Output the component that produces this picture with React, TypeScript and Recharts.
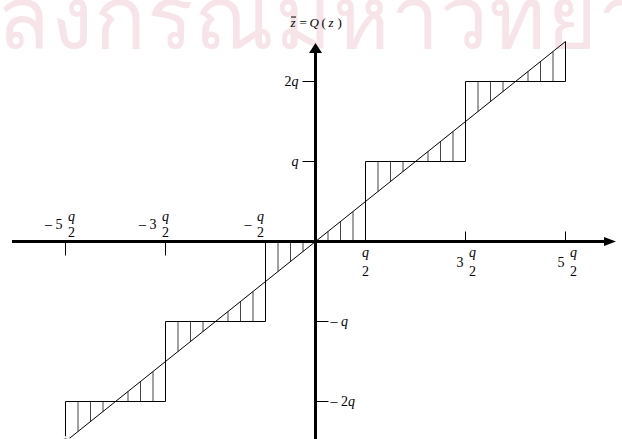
import { ComposedChart, Line, XAxis, YAxis, ReferenceLine, ReferenceDot } from "recharts";

const W = 622;
const H = 439;

// staircase of the uniform quantizer, z and Q(z) in units of q
const stairZ = [-2.5, -2.5, -1.5, -1.5, -0.5, -0.5, 0.5, 0.5, 1.5, 1.5, 2.5, 2.5];
const stairQ = [-2.5, -2, -2, -1, -1, 0, 0, 1, 1, 2, 2, 2.5];

// identity line z̄ = z
const diagZ = [-2.5, 2.5];

// hatching between the staircase and the identity line
const hatchZ = [
  -2.375, -2.25, -2.125, -1.875, -1.75, -1.625,
  -1.375, -1.25, -1.125, -0.875, -0.75, -0.625,
  -0.375, -0.25, -0.125, 0.125, 0.25, 0.375,
  0.625, 0.75, 0.875, 1.125, 1.25, 1.375,
  1.625, 1.75, 1.875, 2.125, 2.25, 2.375,
];
const hatchLevel = [
  -2, -2, -2, -2, -2, -2,
  -1, -1, -1, -1, -1, -1,
  0, 0, 0, 0, 0, 0,
  1, 1, 1, 1, 1, 1,
  2, 2, 2, 2, 2, 2,
];

const xTicks = [-2.5, -1.5, -0.5, 0.5, 1.5, 2.5];
const xTickCoef = ["– 5", "– 3", "–", "", "3", "5"];
const yTicks = [2, 1, -1, -2];
const yTickCoef = ["2", "", "– ", "– 2"];

// axis extents (arrow bases), q units
const axisZ = [-3.035, 2.885];
const axisQ = [-2.5, 2.356];

// fraction column offset per x tick label, px
const fracShift = [6, 0, -5, 0, 7, 8];

const FONT = "'Liberation Serif', 'Times New Roman', serif";
const FS = 14;

const stairData = stairZ.map((z, i) => ({ z, v: stairQ[i] }));
const diagData = diagZ.map((z) => ({ z, v: z }));

function XTick(props: any) {
  const { cx, cy, idx } = props;
  const z = xTicks[idx];
  const coef = xTickCoef[idx];
  const fx = cx + fracShift[idx];
  const neg = z < 0;
  const qY = neg ? cy - 21 : cy + 15;
  const dY = neg ? cy - 5 : cy + 34;
  const cY = neg ? cy - 13 : cy + 25;
  return (
    <g fontFamily={FONT} fontSize={FS} fill="#000">
      {neg ? (
        <line x1={cx} y1={cy} x2={cx} y2={cy + 14} stroke="#000" strokeWidth={1} />
      ) : (
        <line x1={cx} y1={cy - 10} x2={cx} y2={cy} stroke="#000" strokeWidth={1} />
      )}
      <text x={fx} y={qY} textAnchor="middle" fontStyle="italic">q</text>
      <text x={fx} y={dY} textAnchor="middle">2</text>
      {coef && (
        <text x={fx - 9} y={cY} textAnchor="end">{coef}</text>
      )}
    </g>
  );
}

function YTick(props: any) {
  const { cx, cy, idx } = props;
  const v = yTicks[idx];
  const coef = yTickCoef[idx];
  if (v > 0) {
    return (
      <g fontFamily={FONT} fontSize={FS}>
        <line x1={cx - 13} y1={cy} x2={cx} y2={cy} stroke="#000" strokeWidth={1} />
        <text x={cx - 17} y={cy + 4} textAnchor="end" fill="#000">
          {coef}
          <tspan fontStyle="italic">q</tspan>
        </text>
      </g>
    );
  }
  return (
    <g fontFamily={FONT} fontSize={FS}>
      <line x1={cx} y1={cy} x2={cx + 13} y2={cy} stroke="#000" strokeWidth={1} />
      <text x={cx + 15} y={cy + 4} textAnchor="start" fill="#000">
        {coef}
        <tspan fontStyle="italic">q</tspan>
      </text>
    </g>
  );
}

function RightArrow(props: any) {
  const { cx, cy } = props;
  return <polygon points={`${cx},${cy - 4.5} ${cx + 12},${cy} ${cx},${cy + 4.5}`} fill="#000" />;
}

// arrowhead of the vertical axis plus its caption z̄ = Q(z)
function UpArrow(props: any) {
  const { cx, cy } = props;
  const tx = cx - 25;
  const ty = cy - 26;
  return (
    <g fontFamily={FONT} fontSize={13} fill="#000">
      <polygon points={`${cx - 6.5},${cy} ${cx},${cy - 10} ${cx + 6.5},${cy}`} fill="#000" />
      <text x={tx} y={ty} fontStyle="italic">z</text>
      <line x1={tx + 0.5} y1={ty - 10} x2={tx + 5.5} y2={ty - 10} stroke="#000" strokeWidth={1} />
      <text x={tx + 9} y={ty}>=</text>
      <text x={tx + 19} y={ty} fontStyle="italic">Q</text>
      <text x={tx + 31} y={ty}>(</text>
      <text x={tx + 38} y={ty} fontStyle="italic">z</text>
      <text x={tx + 47} y={ty}>)</text>
    </g>
  );
}

export default function App() {
  return (
    <div style={{ position: "absolute", left: 0, top: 0, width: W, height: H, background: "#fff", overflow: "hidden" }}>
      <div
        style={{
          position: "absolute",
          left: -3,
          top: -51,
          fontFamily: "'Noto Sans', 'DejaVu Sans', sans-serif",
          fontSize: 86,
          fontWeight: 400,
          color: "#f6e4e9",
          whiteSpace: "nowrap",
          letterSpacing: 1,
        }}
      >
        ลงกรณ์มหาวิทยาลัย
      </div>
      <div style={{ position: "absolute", left: 0, top: 0 }}>
        <ComposedChart width={W} height={H} margin={{ top: 0, right: 0, bottom: 0, left: 0 }}>
          <XAxis dataKey="z" type="number" domain={[-3.155, 3.065]} allowDataOverflow hide />
          <YAxis type="number" domain={[-2.46875, 3.01875]} allowDataOverflow hide />

          {hatchZ.map((z, i) => (
            <ReferenceLine
              key={`h${i}`}
              segment={[{ x: z, y: hatchLevel[i] }, { x: z, y: z }]}
              stroke="#444"
              strokeWidth={1}
              ifOverflow="visible"
            />
          ))}

          <Line data={diagData} dataKey="v" type="linear" stroke="#000" strokeWidth={1} dot={false} isAnimationActive={false} />
          <Line data={stairData} dataKey="v" type="linear" stroke="#000" strokeWidth={1} dot={false} isAnimationActive={false} />

          <ReferenceLine segment={[{ x: axisZ[0], y: 0 }, { x: axisZ[1], y: 0 }]} stroke="#000" strokeWidth={3} ifOverflow="visible" />
          <ReferenceLine segment={[{ x: 0, y: axisQ[0] }, { x: 0, y: axisQ[1] }]} stroke="#000" strokeWidth={3} ifOverflow="visible" />

          <ReferenceDot x={axisZ[1]} y={0} r={0} ifOverflow="visible" shape={(p: any) => <RightArrow {...p} />} />
          <ReferenceDot x={0} y={axisQ[1]} r={0} ifOverflow="visible" shape={(p: any) => <UpArrow {...p} />} />

          {xTicks.map((z, i) => (
            <ReferenceDot key={`xt${i}`} x={z} y={0} r={0} ifOverflow="visible" shape={(p: any) => <XTick {...p} idx={i} />} />
          ))}
          {yTicks.map((v, i) => (
            <ReferenceDot key={`yt${i}`} x={0} y={v} r={0} ifOverflow="visible" shape={(p: any) => <YTick {...p} idx={i} />} />
          ))}
        </ComposedChart>
      </div>
    </div>
  );
}
